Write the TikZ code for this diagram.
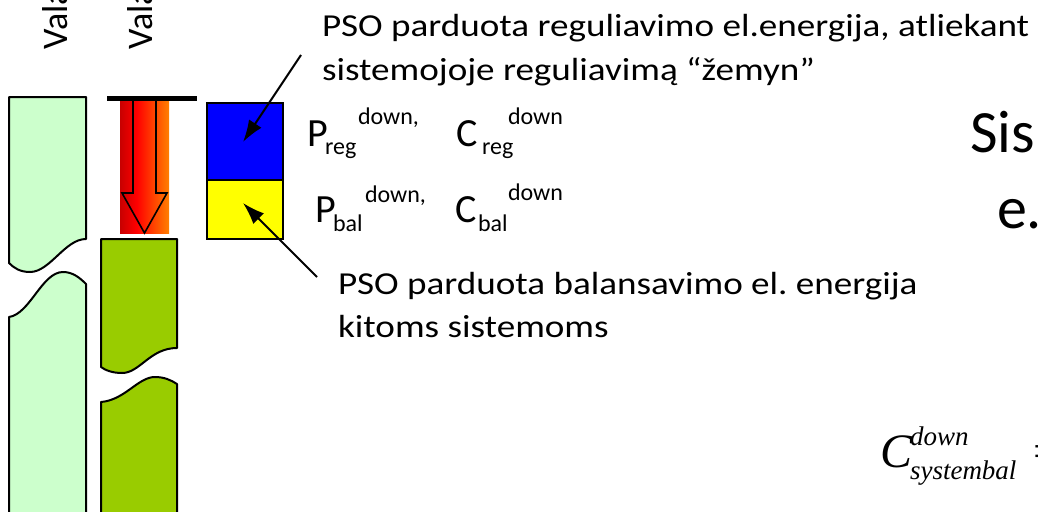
\documentclass[tikz,border=0pt]{standalone}
\usepackage{fontspec}
\setmainfont{Carlito}
\newfontfamily\widefont[FakeStretch=1.16]{Carlito}
\newfontfamily\timesf{Liberation Serif}
\usetikzlibrary{arrows.meta}
\frenchspacing
\definecolor{lightgr}{RGB}{204,255,204}
\definecolor{olivegr}{RGB}{153,204,0}
\definecolor{bblue}{RGB}{0,0,255}
\definecolor{byellow}{RGB}{255,255,0}
\definecolor{dred}{RGB}{200,0,0}
\definecolor{borange}{RGB}{255,128,0}
\pgfdeclarehorizontalshading{redorange}{100bp}{color(0bp)=(dred); color(25bp)=(dred); color(42bp)=(red); color(75bp)=(borange); color(100bp)=(borange)}
\tikzset{
  lbl/.style={anchor=base west, inner sep=0pt, outer sep=0pt},
  txt/.style={lbl, font=\widefont\fontsize{32}{32}\selectfont},
  bigP/.style={lbl, font=\fontsize{40}{40}\selectfont},
  scr/.style={lbl, font=\fontsize{24}{24}\selectfont},
  huge/.style={lbl, font=\fontsize{60}{60}\selectfont},
  piece/.style={draw=black, line width=2pt, line join=round},
  pointer/.style={line width=2pt, -{Latex[length=22pt,width=15pt]}},
}
\begin{document}
\begin{tikzpicture}[x=1pt,y=-1pt]
\useasboundingbox (0,0) rectangle (1038,511);

% rotated labels
\node[lbl, rotate=90, font=\fontsize{36}{36}\selectfont] (vala1) at (67,49) {Vala};
\node[lbl, rotate=90, font=\fontsize{36}{36}\selectfont] (vala2) at (152,49) {Vala};

% light green column
\draw[piece, fill=lightgr] (9,97) -- (86,97) -- (86,239)
  .. controls (65,239) and (50,272) .. (30,272)
  .. controls (20,272) and (14,268) .. (9,263) -- cycle;
\draw[piece, fill=lightgr] (9,317)
  .. controls (30,314) and (42,272) .. (63,272)
  .. controls (73,272) and (80,278) .. (86,284)
  -- (86,520) -- (9,520) -- cycle;

% olive green column
\draw[piece, fill=olivegr] (101,239) -- (177,239) -- (177,348)
  .. controls (150,348) and (140,373) .. (122,373)
  .. controls (112,373) and (105,370) .. (101,367) -- cycle;
\draw[piece, fill=olivegr] (101,402)
  .. controls (125,400) and (138,377) .. (155,377)
  .. controls (164,377) and (171,380) .. (177,384)
  -- (177,520) -- (101,520) -- cycle;

% gradient band, bar and hollow arrow
\shade[shading=redorange] (120,101) rectangle (169,233);
\fill[black] (107,96) rectangle (197,101);
\draw[line width=1.6pt, line join=miter] (133,101) -- (133,193) -- (122,193) -- (144.5,233) -- (167,193) -- (156,193) -- (156,101);

% blue / yellow box
\node[draw=black, line width=2pt, fill=bblue, minimum width=76pt, minimum height=77pt, inner sep=0pt, anchor=north west] (reg) at (206,102) {};
\node[draw=black, line width=2pt, fill=byellow, minimum width=76pt, minimum height=59pt, inner sep=0pt, anchor=north west] (bal) at (206,179) {};

% top text
\node[txt] (t1a) at (322,37) {PSO parduota reguliavimo el.energija, atliekant};
\node[txt] (t1b) at (322,80) {sistemojoje reguliavimą “žemyn”};

% bottom text
\node[txt] (t2a) at (338,294) {PSO parduota balansavimo el. energija};
\node[txt] (t2b) at (338,337) {kitoms sistemoms};

% pointers
\coordinate (p1s) at (301,55);
\coordinate (p1e) at (243,142);
\coordinate (p2s) at (317,277);
\coordinate (p2e) at (243,203);
\draw[pointer] (p1s) -- (p1e);
\draw[pointer] (p2s) -- (p2e);

% P / C labels
\node[bigP] (preg) at (307,146) {P};
\node[scr] (pregs) at (325,154) {reg};
\node[scr] (pregu) at (358,124) {down,};
\node[bigP] (creg) at (456,146) {C};
\node[scr] (cregs) at (482,154) {reg};
\node[scr] (cregu) at (508,124) {down};

\node[bigP] (pbal) at (315,222) {P};
\node[scr] (pbals) at (333,231) {bal};
\node[scr] (pbalu) at (365,202) {down,};
\node[bigP] (cbal) at (455,222) {C};
\node[scr] (cbals) at (478,231) {bal};
\node[scr] (cbalu) at (508,200) {down};

% right big text
\node[huge] (sis) at (970,152) {Sis};
\node[huge] (e) at (997,228) {e.};

% formula
\node[lbl, font=\timesf\itshape\fontsize{48}{48}\selectfont] (C) at (880,467) {C};
\node[lbl, font=\timesf\itshape\fontsize{27}{27}\selectfont] (Cu) at (910,445) {down};
\node[lbl, font=\timesf\itshape\fontsize{27}{27}\selectfont] (Cs) at (910,479) {systembal};
\node[lbl, font=\timesf\fontsize{48}{48}\selectfont] (eq) at (1033,467) {=};
\end{tikzpicture}
\end{document}
